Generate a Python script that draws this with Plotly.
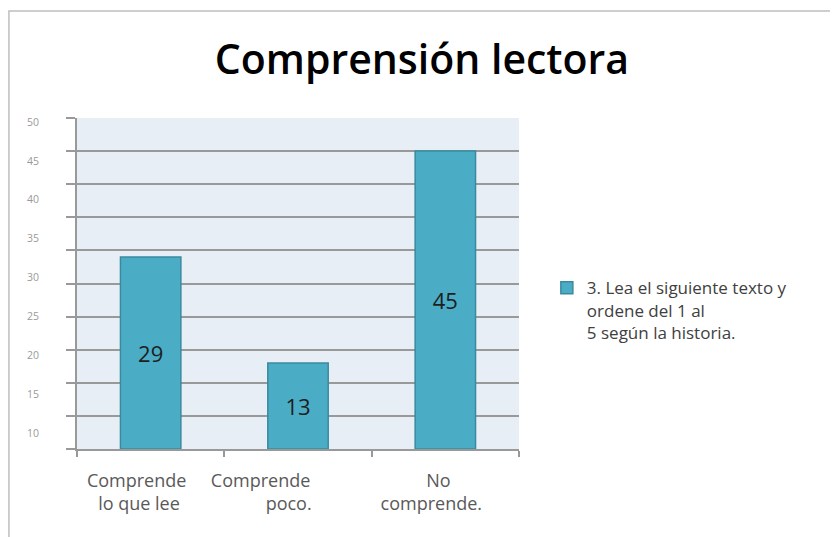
import plotly.graph_objects as go

categories = ["Comprende lo que lee", "Comprende poco.", "No comprende."]
NB = "\u00a0"
tick_labels = [
    "Comprende" + NB * 6 + "<br>lo que lee" + NB * 5,
    "Comprende" + NB * 16 + "<br>poco." + NB * 4,
    "No" + NB * 3 + "<br>comprende." + NB * 6,
]
values = [29, 13, 45]
series_name = "3. Lea el siguiente texto y<br>ordene del 1 al<br>5 según la historia."
title_text = "Comprensión lectora"
y_label_ticks = [10, 15, 20, 25, 30, 35, 40, 45, 50]

BAR = "#4BACC6"
BAR_EDGE = "#3A8A9E"
GRID = "#999999"

fig = go.Figure()
fig.add_trace(go.Bar(
    x=categories, y=values, name=series_name,
    marker=dict(color=BAR, line=dict(color=BAR_EDGE, width=1.5)),
    width=0.41,
    text=[str(v) for v in values], textposition="inside", insidetextanchor="middle",
    textfont=dict(size=22, color="#1E1E1E", family="Open Sans"),
    showlegend=True,
))
fig.add_trace(go.Scatter(x=categories, y=[None, None, None], yaxis="y2",
                         showlegend=False, hoverinfo="skip"))

fig.update_layout(
    width=838, height=537,
    margin=dict(l=69, r=327, t=110, b=96),
    paper_bgcolor="white", plot_bgcolor="#E8EEF6",
    title=dict(text=title_text, x=0.494, xanchor="center", y=0.903, yanchor="middle",
               font=dict(family="Open Sans", size=41, color="#000000", weight=600)),
    xaxis=dict(
        tickmode="array", tickvals=categories, ticktext=tick_labels, tickangle=0,
        automargin=False, ticklabelstandoff=14,
        tickson="boundaries", ticks="outside", ticklen=6, tickcolor=GRID, tickwidth=2,
        showline=True, linecolor=GRID, linewidth=2, showgrid=False,
        tickfont=dict(family="Open Sans", size=18, color="#595959"),
    ),
    yaxis=dict(
        range=[0, 50], dtick=5, showticklabels=False, automargin=False,
        ticks="outside", ticklen=9, tickcolor=GRID, tickwidth=2,
        showgrid=True, gridcolor=GRID, gridwidth=2,
        showline=True, linecolor=GRID, linewidth=2, zeroline=False,
    ),
    yaxis2=dict(
        overlaying="y", side="left", range=[7.94, 50.51], automargin=False,
        tickmode="array", tickvals=y_label_ticks,
        showgrid=False, showline=False, zeroline=False, ticks="",
        ticklabelstandoff=37,
        tickfont=dict(family="Open Sans", size=10.5, color="#9A9A9A"),
    ),
    legend=dict(x=1.063, y=0.54, xanchor="left", yanchor="top", valign="top",
                font=dict(family="Open Sans", size=17, color="#404040"),
                bgcolor="rgba(0,0,0,0)", itemwidth=30),
    shapes=[dict(type="rect", xref="paper", yref="paper",
                 x0=-0.154, x1=1.9, y0=-0.6, y1=1.323,
                 line=dict(color="#BFBFBF", width=1.5), fillcolor="rgba(0,0,0,0)", layer="below")],
)

fig.write_html("out.html")
